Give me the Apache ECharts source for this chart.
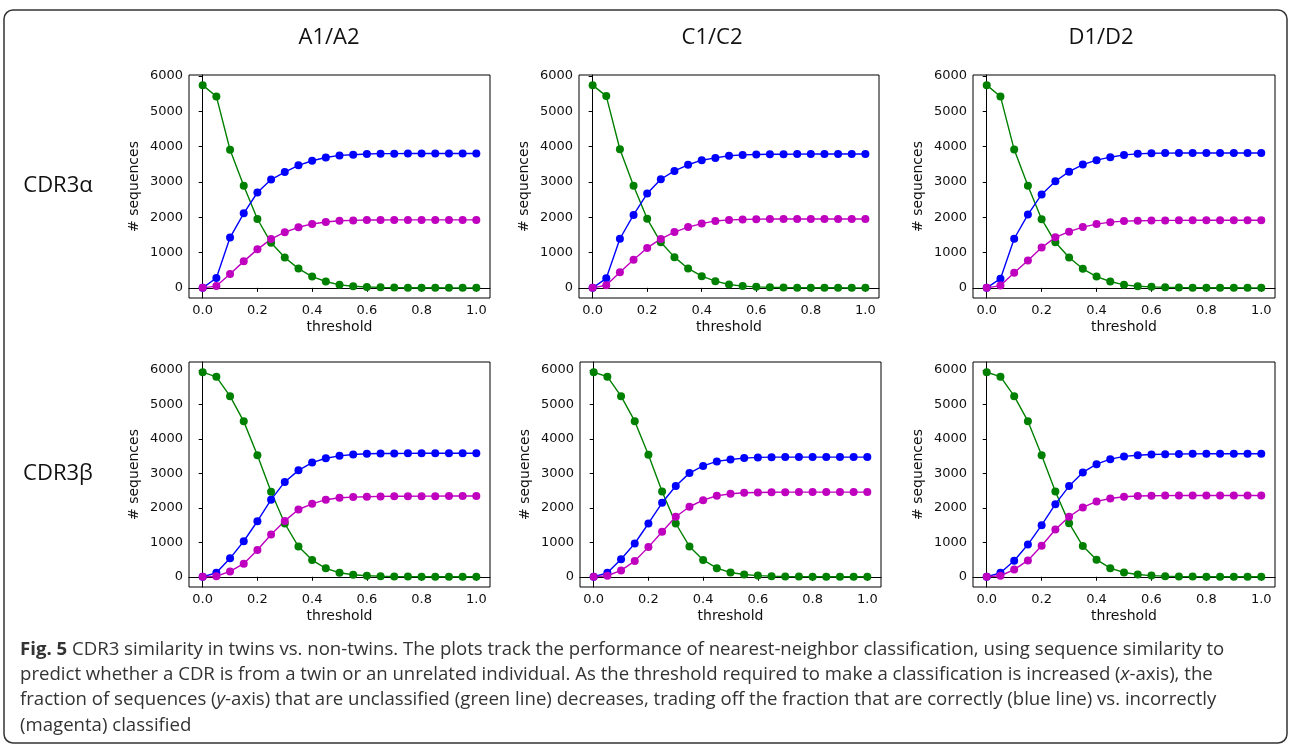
<!DOCTYPE html>
<html>
<head>
<meta charset="utf-8">
<script src="https://cdn.jsdelivr.net/npm/echarts@6/dist/echarts.min.js"></script>
<style>
html,body{margin:0;padding:0;background:#fff;}
#chart{width:1290px;height:745px;}
</style>
</head>
<body>
<div id="chart"></div>
<script>
// ---- data ----
const thresholds = [0,0.05,0.1,0.15,0.2,0.25,0.3,0.35,0.4,0.45,0.5,0.55,0.6,0.65,0.7,0.75,0.8,0.85,0.9,0.95,1.0];
const xTickValues = [0,0.2,0.4,0.6,0.8,1.0];
const yTickValues = [0,1000,2000,3000,4000,5000,6000];
const columnTitles = ['A1/A2','C1/C2','D1/D2'];
const rowTitles = ['CDR3α','CDR3β'];

// CDR3α
const a1a2_alpha_unclassified = [5740,5420,3910,2890,1950,1275,860,545,320,180,85,45,25,15,8,5,3,2,1,1,0];
const a1a2_alpha_correct      = [0,280,1425,2110,2700,3065,3280,3470,3600,3690,3750,3770,3790,3800,3800,3805,3805,3805,3805,3805,3805];
const a1a2_alpha_incorrect    = [0,50,390,750,1090,1380,1575,1715,1810,1865,1900,1910,1920,1922,1924,1925,1925,1925,1925,1925,1925];

const c1c2_alpha_unclassified = [5740,5430,3925,2890,1955,1290,870,550,330,190,95,50,28,18,10,6,4,3,2,1,1];
const c1c2_alpha_correct      = [0,270,1390,2065,2670,3075,3310,3485,3615,3680,3740,3765,3775,3782,3785,3788,3790,3790,3790,3790,3790];
const c1c2_alpha_incorrect    = [0,75,440,795,1130,1385,1580,1720,1820,1895,1925,1935,1945,1948,1950,1950,1950,1950,1950,1950,1950];

const d1d2_alpha_unclassified = [5740,5420,3915,2890,1945,1290,860,540,320,180,85,45,28,18,10,6,4,3,2,1,1];
const d1d2_alpha_correct      = [0,260,1390,2075,2645,3020,3290,3490,3615,3700,3765,3795,3810,3815,3818,3820,3820,3820,3820,3820,3820];
const d1d2_alpha_incorrect    = [0,65,430,775,1140,1430,1590,1720,1805,1860,1890,1900,1905,1910,1912,1914,1915,1915,1915,1915,1915];

// CDR3β
const a1a2_beta_unclassified = [5930,5795,5235,4505,3525,2465,1545,875,485,245,117,60,30,18,10,6,4,3,2,1,1];
const a1a2_beta_correct      = [0,115,535,1030,1610,2235,2750,3085,3310,3435,3505,3545,3565,3572,3575,3578,3580,3580,3580,3580,3580];
const a1a2_beta_incorrect    = [0,15,155,380,775,1225,1620,1950,2115,2235,2290,2310,2320,2330,2333,2335,2337,2338,2340,2340,2340];

const c1c2_beta_unclassified = [5930,5800,5235,4510,3535,2475,1545,880,490,250,125,65,35,18,10,6,4,3,2,1,1];
const c1c2_beta_correct      = [0,115,510,965,1545,2145,2630,3005,3215,3345,3400,3440,3460,3468,3470,3470,3470,3470,3470,3470,3470];
const c1c2_beta_incorrect    = [0,30,185,455,860,1305,1740,2030,2220,2350,2405,2435,2445,2450,2453,2455,2455,2455,2455,2455,2455];

const d1d2_beta_unclassified = [5930,5800,5235,4510,3525,2475,1555,890,495,250,125,65,35,18,10,6,4,3,2,1,1];
const d1d2_beta_correct      = [0,115,465,935,1495,2105,2630,3025,3265,3410,3490,3525,3545,3555,3560,3563,3565,3565,3565,3565,3565];
const d1d2_beta_incorrect    = [0,30,210,475,900,1370,1740,2010,2185,2270,2320,2340,2350,2353,2355,2355,2355,2355,2355,2355,2355];

const captionLines = [
  '{b|Fig. 5} CDR3 similarity in twins vs. non-twins. The plots track the performance of nearest-neighbor classification, using sequence similarity to',
  'predict whether a CDR is from a twin or an unrelated individual. As the threshold required to make a classification is increased ({i|x}-axis), the',
  'fraction of sequences ({i|y}-axis) that are unclassified (green line) decreases, trading off the fraction that are correctly (blue line) vs. incorrectly',
  '(magenta) classified'
];

// ---- layout ----
const panels = [
  {g:a1a2_alpha_unclassified,b:a1a2_alpha_correct,m:a1a2_alpha_incorrect,left:189,top:75,width:301,height:223,ymin:-287,ymax:6027},
  {g:c1c2_alpha_unclassified,b:c1c2_alpha_correct,m:c1c2_alpha_incorrect,left:579,top:75,width:300,height:223,ymin:-287,ymax:6027},
  {g:d1d2_alpha_unclassified,b:d1d2_alpha_correct,m:d1d2_alpha_incorrect,left:973,top:75,width:302,height:223,ymin:-287,ymax:6027},
  {g:a1a2_beta_unclassified,b:a1a2_beta_correct,m:a1a2_beta_incorrect,left:189,top:362,width:301,height:225,ymin:-296,ymax:6226},
  {g:c1c2_beta_unclassified,b:c1c2_beta_correct,m:c1c2_beta_incorrect,left:580,top:362,width:301,height:225,ymin:-296,ymax:6226},
  {g:d1d2_beta_unclassified,b:d1d2_beta_correct,m:d1d2_beta_incorrect,left:973,top:362,width:302,height:225,ymin:-296,ymax:6226}
];
const colors = {g:'#008000', b:'#0000ff', m:'#bf00bf'};
const tickFont = 'DejaVu Sans';

const grid = [], xAxis = [], yAxis = [], series = [];
panels.forEach((p, i) => {
  grid.push({left:p.left, top:p.top, width:p.width, height:p.height, show:true, borderColor:'#000', borderWidth:1, backgroundColor:'transparent', containLabel:false});
  xAxis.push({
    type:'value', gridIndex:i, min:-0.05, max:1.05,
    name:'threshold', nameLocation:'middle', nameGap:22,
    nameTextStyle:{fontFamily:tickFont, fontSize:14, color:'#111'},
    axisLine:{show:true, lineStyle:{color:'#000', width:1}},
    axisTick:{show:true, inside:false, length:4, lineStyle:{color:'#000'}, customValues:xTickValues},
    axisLabel:{show:true, margin:6, fontFamily:tickFont, fontSize:13, color:'#111', customValues:xTickValues, formatter:v=>v.toFixed(1)},
    splitLine:{show:false}
  });
  yAxis.push({
    type:'value', gridIndex:i, min:p.ymin, max:p.ymax,
    name:'# sequences', nameLocation:'middle', nameGap:48, nameRotate:90,
    nameTextStyle:{fontFamily:tickFont, fontSize:14, color:'#111'},
    axisLine:{show:true, lineStyle:{color:'#000', width:1}},
    axisTick:{show:true, inside:false, length:4, lineStyle:{color:'#000'}, customValues:yTickValues},
    axisLabel:{show:true, margin:6, fontFamily:tickFont, fontSize:13, color:'#111', customValues:yTickValues, formatter:v=>String(Math.round(v))},
    splitLine:{show:false}
  });
  ['g','b','m'].forEach(k => {
    series.push({
      type:'line', xAxisIndex:i, yAxisIndex:i,
      data: thresholds.map((t, j) => [t, p[k][j]]),
      symbol:'circle', symbolSize:8, showSymbol:true,
      lineStyle:{color:colors[k], width:1.4},
      itemStyle:{color:colors[k], borderWidth:0},
      emphasis:{disabled:true}, animation:false, z:2
    });
  });
});

const graphic = [];
graphic.push({type:'rect', shape:{x:4, y:10, width:1283, height:733, r:9}, style:{fill:'none', stroke:'#333', lineWidth:1.5}, silent:true});
const colCenters = [329, 712, 1101];
columnTitles.forEach((t, i) => graphic.push({type:'text', x:colCenters[i], y:38, style:{text:t, font:'22px "Open Sans", sans-serif', fill:'#111', textAlign:'center', textVerticalAlign:'middle'}}));
const rowCenters = [186, 474];
rowTitles.forEach((t, i) => graphic.push({type:'text', x:58, y:rowCenters[i], style:{text:t, font:'22px "Open Sans", sans-serif', fill:'#111', textAlign:'center', textVerticalAlign:'middle'}}));
const capY = [650, 675, 700, 726];
const capSize = 18.6;
captionLines.forEach((t, i) => graphic.push({type:'text', x:20, y:capY[i], style:{
  text:t, fontFamily:'Open Sans', fontSize:capSize, fill:'#333', textAlign:'left', textVerticalAlign:'middle',
  rich:{
    b:{fontFamily:'Open Sans', fontSize:capSize, fontWeight:'bold', fill:'#333'},
    i:{fontFamily:'Open Sans', fontSize:capSize, fontStyle:'italic', fill:'#333'}
  }
}}));

const chart = echarts.init(document.getElementById('chart'), null, {renderer:'canvas'});
chart.setOption({
  animation:false,
  backgroundColor:'#fff',
  grid, xAxis, yAxis, series, graphic
});
</script>
</body>
</html>
